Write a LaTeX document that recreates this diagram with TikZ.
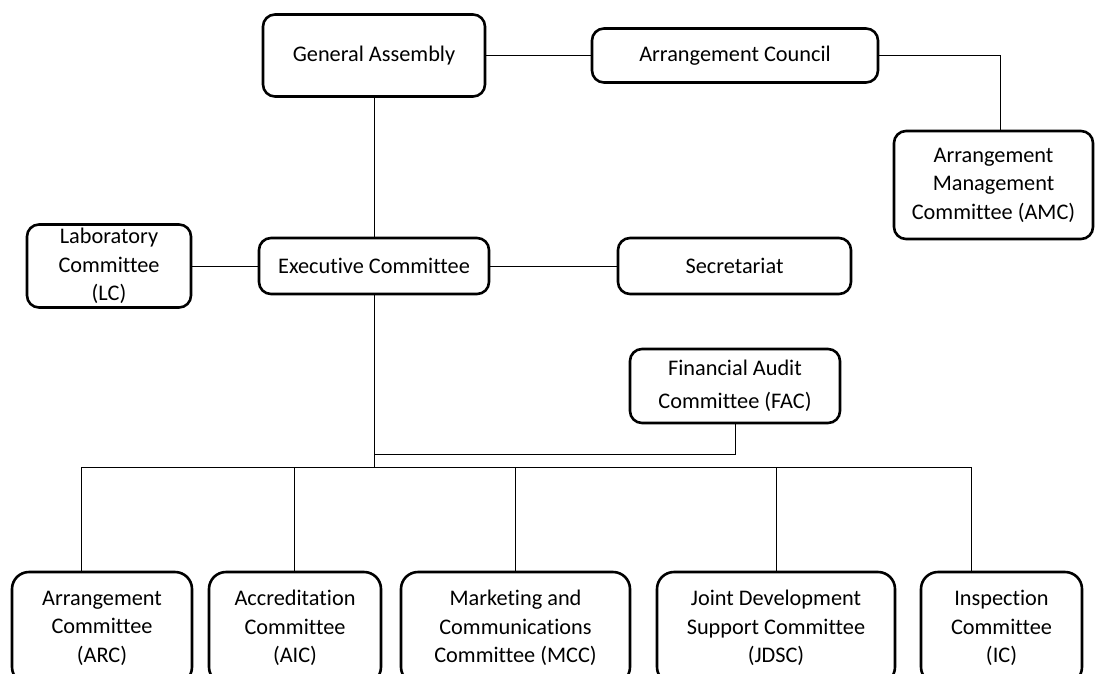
\documentclass[tikz,border=0pt]{standalone}
\usepackage{fontspec}
\setmainfont{Carlito}[Ligatures=NoCommon]

\tikzset{
  unit/.style={draw, line width=2.6pt, rounded corners=12pt, inner sep=0pt, align=center,
    font=\fontsize{22.3}{28.5}\selectfont},
  lowunit/.style={unit, rounded corners=17pt, minimum height=112pt},
  link/.style={line width=0.9pt}
}

\begin{document}
\begin{tikzpicture}[x=1pt, y=-1pt]
  \useasboundingbox (0,0) rectangle (1095,673);

  % top level
  \node[unit, minimum width=222pt, minimum height=82pt] (ga) at (374,55.5) {General Assembly};
  \node[unit, minimum width=286pt, minimum height=54pt] (ac) at (735,55.5) {Arrangement Council};
  \node[unit, minimum width=199pt, minimum height=108pt] (amc) at (993.5,185) {Arrangement\\Management\\Committee (AMC)};

  % executive level
  \node[unit, minimum width=164pt, minimum height=83pt] (lc) at (109,266) {Laboratory\\Committee\\(LC)};
  \node[unit, minimum width=230pt, minimum height=56pt] (ec) at (374,266) {Executive Committee};
  \node[unit, minimum width=233pt, minimum height=56pt] (sec) at (734.5,266) {Secretariat};
  \node[unit, minimum width=210pt, minimum height=74pt, font=\fontsize{22.3}{33}\selectfont] (fac) at (735,386) {Financial Audit\\Committee (FAC)};

  % committees
  \node[lowunit, minimum width=180pt] (arc) at (102,628) {Arrangement\\Committee\\(ARC)};
  \node[lowunit, minimum width=172pt] (aic) at (295,628) {Accreditation\\Committee\\(AIC)};
  \node[lowunit, minimum width=229pt] (mcc) at (515.5,628) {Marketing and\\Communications\\Committee (MCC)};
  \node[lowunit, minimum width=238pt] (jdsc) at (776,628) {Joint Development\\Support Committee\\(JDSC)};
  \node[lowunit, minimum width=161pt] (ic) at (1001.5,628) {Inspection\\Committee\\(IC)};

  % junctions
  \coordinate (facjoin) at (374,454);
  \coordinate (hub) at (374,467);
  \coordinate (d1) at (81,467);
  \coordinate (d2) at (294,467);
  \coordinate (d3) at (515.5,467);
  \coordinate (d4) at (776,467);
  \coordinate (d5) at (971,467);

  \draw[link] (ga.east) -- (ac.west);
  \draw[link] (ac.east) -| ([xshift=6.5pt]amc.north);
  \draw[link] (ga.south) -- (ec.north);
  \draw[link] (lc.east) -- (ec.west);
  \draw[link] (ec.east) -- (sec.west);
  \draw[link] (ec.south) -- (hub);
  \draw[link] (fac.south) |- (facjoin);
  \draw[link] (d1) -- (d5);
  \draw[link] (d1) -- (d1 |- arc.north);
  \draw[link] (d2) -- (d2 |- aic.north);
  \draw[link] (d3) -- (mcc.north);
  \draw[link] (d4) -- (jdsc.north);
  \draw[link] (d5) -- (d5 |- ic.north);
\end{tikzpicture}
\end{document}
